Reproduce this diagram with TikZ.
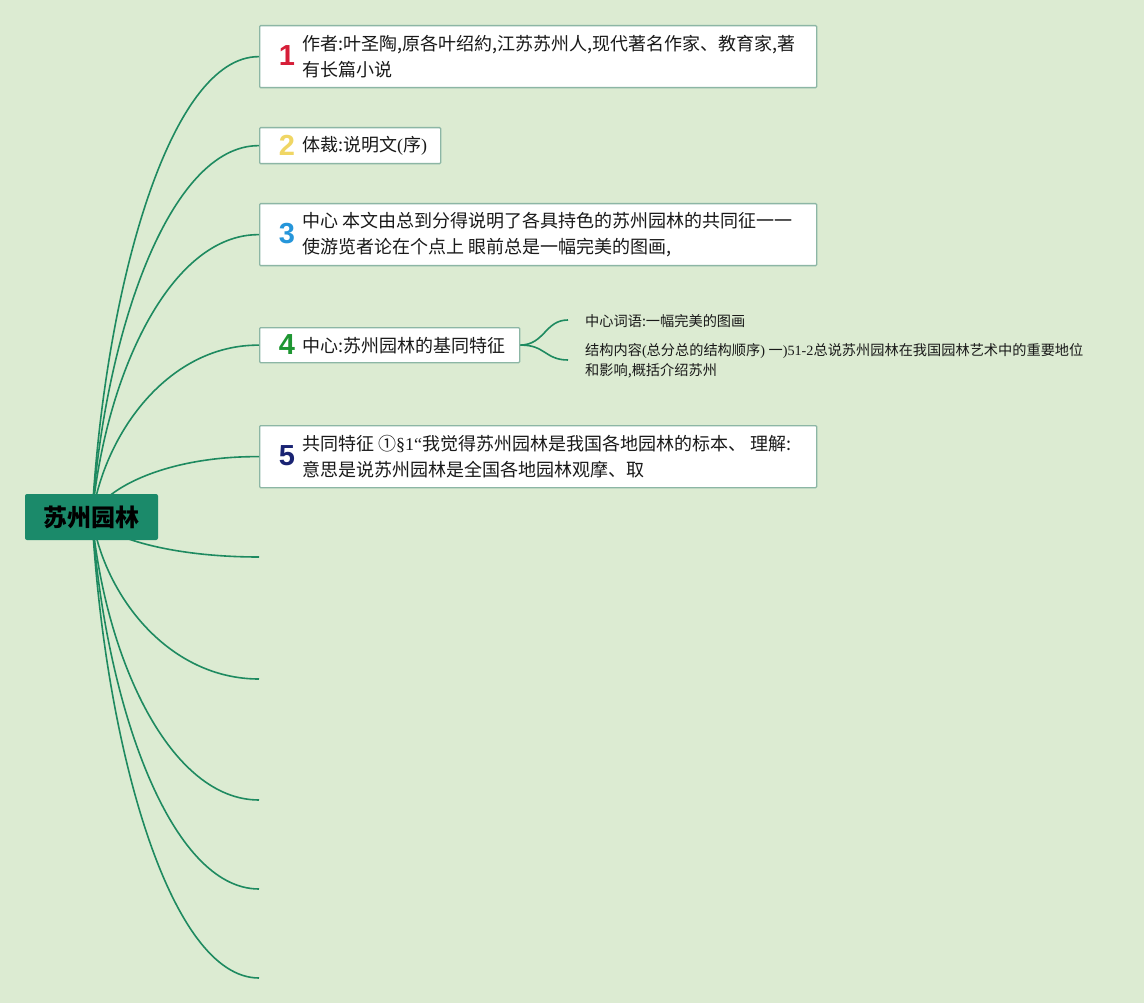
\documentclass[tikz,border=0pt]{standalone}
\usepackage{fontspec}
\setmainfont{Noto Sans CJK SC}
\newfontfamily\numfont{Liberation Sans}
\newfontfamily\serfont{Liberation Serif}
\definecolor{bg}{RGB}{220,235,210}
\definecolor{edge}{RGB}{30,138,96}
\definecolor{rootc}{RGB}{27,138,106}
\definecolor{boxline}{RGB}{140,182,165}
\definecolor{txt}{RGB}{25,25,25}
\definecolor{n1}{RGB}{214,30,56}
\definecolor{n2}{RGB}{240,214,100}
\definecolor{n3}{RGB}{38,150,218}
\definecolor{n4}{RGB}{30,150,50}
\definecolor{n5}{RGB}{25,35,115}
\tikzset{
  box/.style={draw=boxline, line width=1.3pt, fill=white, anchor=north west, inner sep=0pt, rounded corners=1pt},
  num/.style={font=\numfont\fontsize{29}{29}\selectfont\bfseries, inner sep=0pt},
  btxt/.style={anchor=west, align=left, inner sep=0pt, text=txt, font=\fontsize{18}{26}\selectfont},
  stxt/.style={anchor=west, align=left, inner sep=0pt, text=txt, font=\fontsize{14.2}{20}\selectfont},
  link/.style={draw=edge, line width=1.6pt},
  root/.style={fill=rootc, rounded corners=2pt, minimum width=133pt, minimum height=46pt, inner sep=0pt, font=\fontsize{24}{24}\selectfont\bfseries, text=black}
}
\begin{document}
\begin{tikzpicture}[x=1pt, y=-1pt]
\fill[bg] (0,0) rectangle (1144,1003);
\useasboundingbox (0,0) rectangle (1144,1003);
\coordinate (rc) at (92,517);
% boxes
\node[box, minimum width=557pt, minimum height=62pt] (b1) at (259,25) {};
\node[box, minimum width=181pt, minimum height=36pt] (b2) at (259,127) {};
\node[box, minimum width=557pt, minimum height=62pt] (b3) at (259,203) {};
\node[box, minimum width=260pt, minimum height=35pt] (b4) at (259,327) {};
\node[box, minimum width=557pt, minimum height=62pt] (b5) at (259,425) {};
% empty branch ends
\coordinate (e6) at (259,557);
\coordinate (e7) at (259,679);
\coordinate (e8) at (259,800);
\coordinate (e9) at (259,889);
\coordinate (e10) at (259,978);
% edges from root
\foreach \t/\y in {b1.west/56, b2.west/145, b3.west/234, b4.west/344.5, b5.west/456, e6/557, e7/679, e8/800, e9/889, e10/978}{
  \pgfmathsetmacro{\cy}{\y+0.5*(517-\y)}
  \draw[link] (rc) .. controls (105,\cy) and (170,\y) .. (\t);
}
% numbers
\node[num, text=n1] (k1) at (287,56) {1};
\node[num, text=n2] (k2) at (287,145) {2};
\node[num, text=n3] (k3) at (287,234) {3};
\node[num, text=n4] (k4) at (287,345) {4};
\node[num, text=n5] (k5) at (287,456) {5};
% texts
\node[btxt] (t1) at (302,57) {作者:叶圣陶,原各叶绍約,江苏苏州人,现代著名作家、教育家,著\\有长篇小说};
\node[btxt] (t2) at (302,146) {体裁:说明文{\serfont(}序{\serfont)}};
\node[btxt] (t3) at (302,235) {中心 本文由总到分得说明了各具持色的苏州园林的共同征一一\\使游览者论在个点上 眼前总是一幅完美的图画,};
\node[btxt] (t4) at (302,346) {中心:苏州园林的基同特征};
\node[btxt] (t5) at (302,457) {共同特征 ①{\serfont §1“}我觉得苏州园林是我国各地园林的标本、 理解:\\意思是说苏州园林是全国各地园林观摩、取};
% sub-branches of 4
\coordinate (s1) at (568,320);
\coordinate (s2) at (568,360);
\draw[link] (b4.east) .. controls (545,344.5) and (545,320) .. (s1);
\draw[link] (b4.east) .. controls (545,344.5) and (545,360) .. (s2);
\node[stxt] (u1) at (585,321) {中心词语:一幅完美的图画};
\node[stxt] (u2) at (585,361) {结构内容{\serfont(}总分总的结构顺序{\serfont) }一{\serfont )51-2}总说苏州园林在我国园林艺术中的重要地位\\和影响,概括介绍苏州};
% root
\node[root] (root) at (91.5,517) {苏州园林};
\end{tikzpicture}
\end{document}
